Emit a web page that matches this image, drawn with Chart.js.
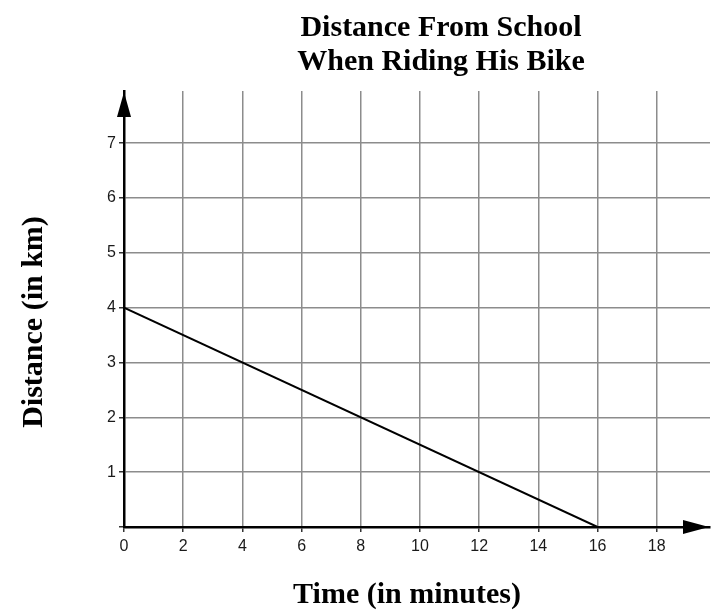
<!DOCTYPE html>
<html>
<head>
<meta charset="utf-8">
<script src="https://cdn.jsdelivr.net/npm/chart.js@4/dist/chart.umd.min.js"></script>
<style>
  html, body { margin: 0; padding: 0; background: #fff; }
  #wrap { width: 717px; height: 616px; }
</style>
</head>
<body>
<div id="wrap"><canvas id="bikeChart" width="717" height="616"></canvas></div>
<script>
// data
const timeMin = [0, 16];
const distKm = [4, 0];
const xTicks = [0, 2, 4, 6, 8, 10, 12, 14, 16, 18];
const yTicks = [0, 1, 2, 3, 4, 5, 6, 7];
const xMax = 19.8;
const yMax = 7.95;

const titleLines = ['Distance From School', 'When Riding His Bike'];
const xTitle = 'Time (in minutes)';
const yTitle = 'Distance (in km)';

const serif = "'Liberation Serif', 'Times New Roman', serif";
const sans = "'Liberation Sans', Arial, sans-serif";

// arrow heads at the end of each axis
const arrowPlugin = {
    id: 'arrows',
    afterDraw(chart) {
        const { ctx, chartArea } = chart;
        ctx.save();
        ctx.fillStyle = '#000';
        // y axis arrow
        ctx.beginPath();
        ctx.moveTo(chartArea.left, chartArea.top + 1);
        ctx.lineTo(chartArea.left - 7, chartArea.top + 26);
        ctx.lineTo(chartArea.left + 7, chartArea.top + 26);
        ctx.closePath();
        ctx.fill();
        // x axis arrow
        ctx.beginPath();
        ctx.moveTo(chartArea.right - 1, chartArea.bottom);
        ctx.lineTo(chartArea.right - 27, chartArea.bottom - 7);
        ctx.lineTo(chartArea.right - 27, chartArea.bottom + 7);
        ctx.closePath();
        ctx.fill();
        ctx.restore();
    }
};

// title and axis titles, placed where the picture has them
const textPlugin = {
    id: 'texts',
    afterDraw(chart) {
        const { ctx } = chart;
        ctx.save();
        ctx.fillStyle = '#000';
        ctx.font = 'bold 30px ' + serif;
        ctx.textAlign = 'center';
        ctx.textBaseline = 'alphabetic';
        ctx.fillText(titleLines[0], 441, 36);
        ctx.fillText(titleLines[1], 441, 70);

        ctx.fillText(xTitle, 407, 603);

        ctx.translate(42, 322);
        ctx.rotate(-Math.PI / 2);
        ctx.fillText(yTitle, 0, 0);
        ctx.restore();
    }
};

const ctx = document.getElementById('bikeChart').getContext('2d');

new Chart(ctx, {
    type: 'scatter',
    data: {
        datasets: [{
            data: timeMin.map((t, i) => ({ x: t, y: distKm[i] })),
            showLine: true,
            borderColor: '#000',
            borderWidth: 2,
            pointRadius: 0,
            pointHoverRadius: 0
        }]
    },
    options: {
        responsive: false,
        animation: false,
        layout: { padding: { top: 91, right: 7, left: 0, bottom: 0 } },
        plugins: {
            legend: { display: false },
            tooltip: { enabled: false },
            title: { display: false }
        },
        scales: {
            x: {
                type: 'linear',
                min: 0,
                max: xMax,
                afterBuildTicks: s => { s.ticks = xTicks.map(v => ({ value: v })); },
                afterFit: s => { s.height = 616 - 527; },
                grid: { color: '#8c8c8c', lineWidth: 1.5, tickLength: 5, tickColor: '#333' },
                border: { color: '#000', width: 2.5 },
                ticks: { color: '#1a1a1a', font: { family: sans, size: 16 }, padding: 5, maxRotation: 0 }
            },
            y: {
                type: 'linear',
                min: 0,
                max: yMax,
                afterBuildTicks: s => { s.ticks = yTicks.map(v => ({ value: v })); },
                afterFit: s => { s.width = 124; },
                grid: { color: '#8c8c8c', lineWidth: 1.5, tickLength: 5, tickColor: '#333' },
                border: { color: '#000', width: 2.5 },
                ticks: {
                    color: '#1a1a1a',
                    font: { family: sans, size: 16 },
                    padding: 3,
                    callback: v => v === 0 ? '' : v
                }
            }
        }
    },
    plugins: [arrowPlugin, textPlugin]
});
</script>
</body>
</html>
